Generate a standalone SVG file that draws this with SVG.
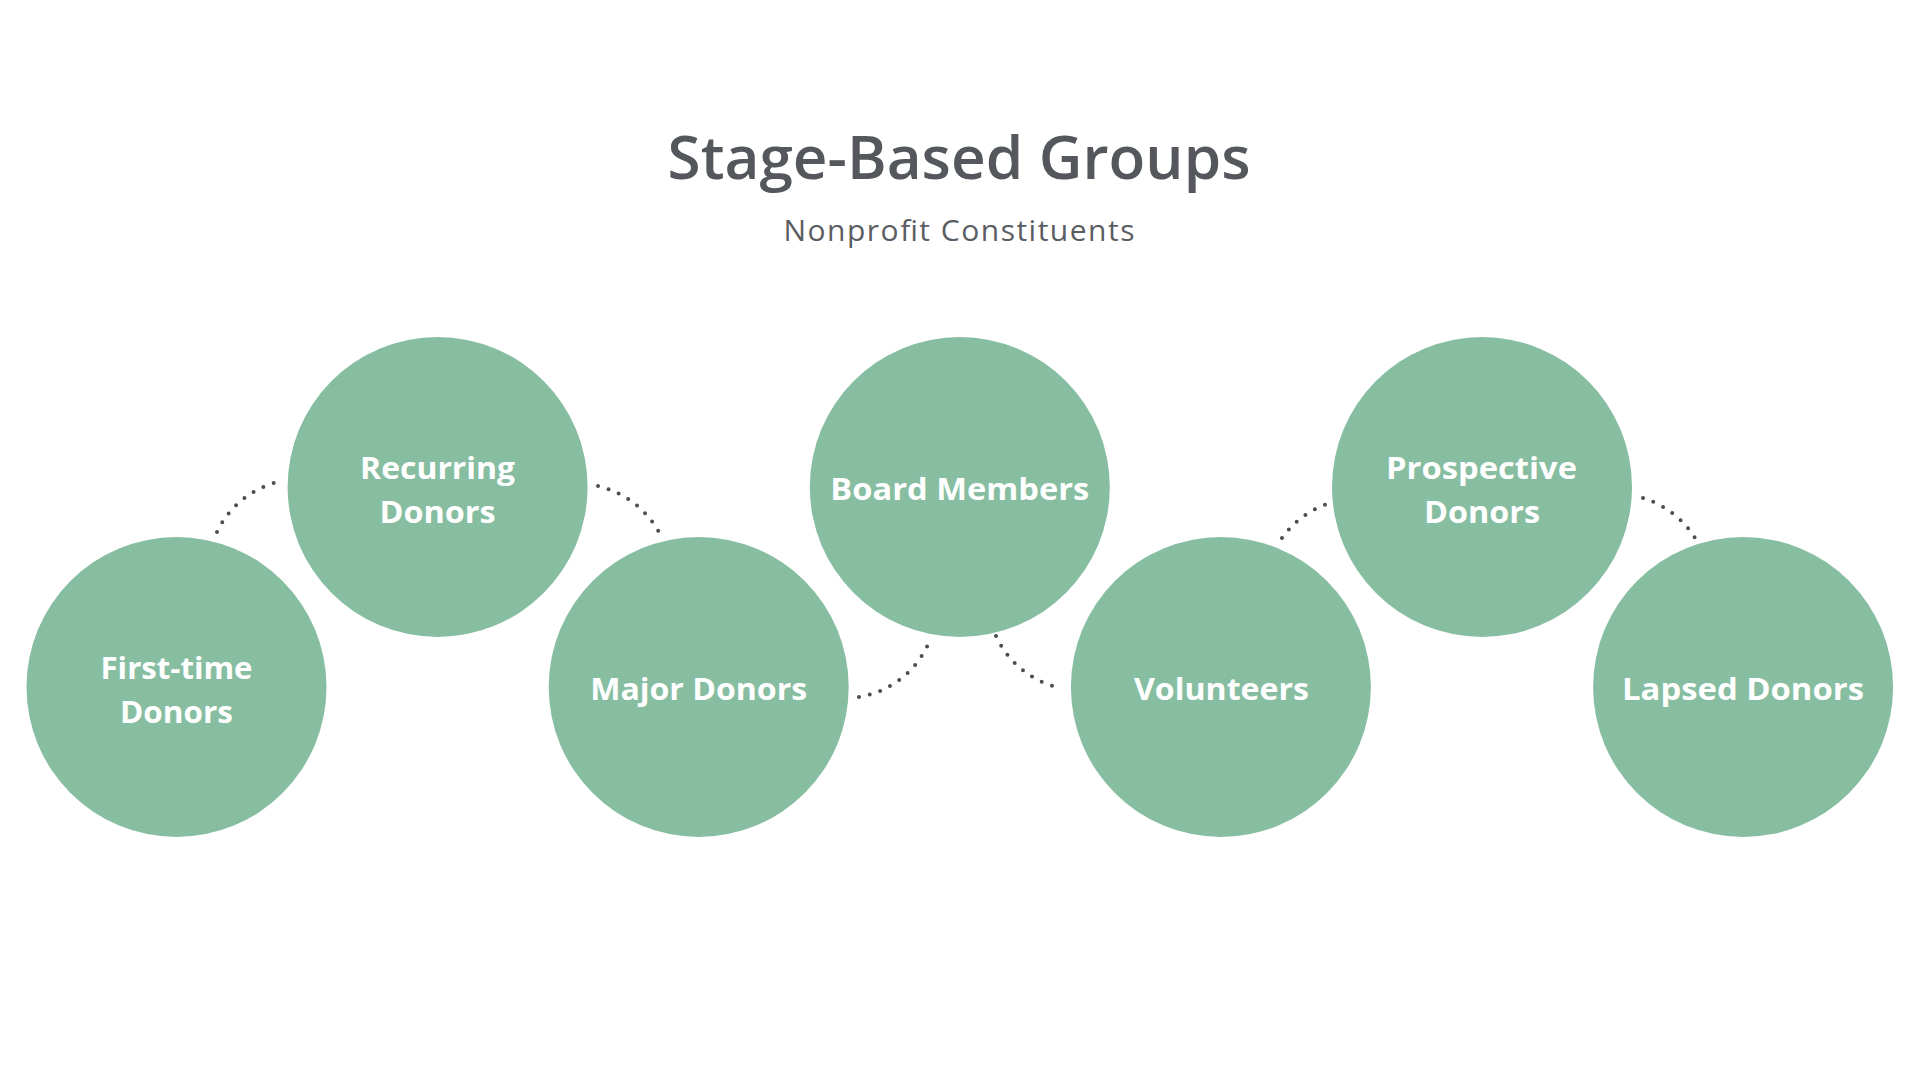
<svg xmlns="http://www.w3.org/2000/svg" width="1920" height="1080" viewBox="0 0 1920 1080">
  <style>
    .node circle { fill: #87bea1; }
    .lbl { font-family: "Open Sans", "Liberation Sans", sans-serif; font-weight: 700; font-size: 30px; fill: #ffffff; text-anchor: middle; }
    .title { font-family: "Open Sans", "Liberation Sans", sans-serif; font-weight: 600; font-size: 60px; fill: #54575c; text-anchor: middle; }
    .sub { font-family: "Open Sans", "Liberation Sans", sans-serif; font-weight: 400; font-size: 30px; fill: #5a5d62; text-anchor: middle; }
    .conn path { fill: none; stroke: #4a4d52; stroke-width: 4; stroke-linecap: round; stroke-dasharray: 0 11; }
  </style>
  <rect x="0" y="0" width="1920" height="1080" fill="#ffffff"/>

  <g id="header">
    <text class="title" x="959" y="179" textLength="583" lengthAdjust="spacingAndGlyphs">Stage-Based Groups</text>
    <text class="sub" x="959" y="241" textLength="351" lengthAdjust="spacing">Nonprofit Constituents</text>
  </g>

  <g id="connectors" class="conn">
    <path d="M 217 532 A 92 92 0 0 1 282 481"/>
    <path d="M 598 486 A 95 95 0 0 1 662 538"/>
    <path d="M 859 697 A 92 92 0 0 0 931 637"/>
    <path d="M 996 636 A 93 93 0 0 0 1060 688"/>
    <path d="M 1282 538 A 93 93 0 0 1 1330 503"/>
    <path d="M 1643 498 A 95 95 0 0 1 1698 543"/>
  </g>

  <g id="node-first-time" class="node">
    <circle cx="176.5" cy="687" r="150"/>
    <text class="lbl" x="176.5" y="679" textLength="152" lengthAdjust="spacingAndGlyphs">First-time</text>
    <text class="lbl" x="176.5" y="723" textLength="113" lengthAdjust="spacingAndGlyphs">Donors</text>
  </g>
  <g id="node-recurring" class="node">
    <circle cx="437.6" cy="487" r="150"/>
    <text class="lbl" x="437.6" y="479" textLength="155" lengthAdjust="spacingAndGlyphs">Recurring</text>
    <text class="lbl" x="437.6" y="523" textLength="116" lengthAdjust="spacingAndGlyphs">Donors</text>
  </g>
  <g id="node-major" class="node">
    <circle cx="698.7" cy="687" r="150"/>
    <text class="lbl" x="698.7" y="700" textLength="217" lengthAdjust="spacingAndGlyphs">Major Donors</text>
  </g>
  <g id="node-board" class="node">
    <circle cx="959.8" cy="487" r="150"/>
    <text class="lbl" x="959.8" y="500" textLength="259" lengthAdjust="spacingAndGlyphs">Board Members</text>
  </g>
  <g id="node-volunteers" class="node">
    <circle cx="1220.9" cy="687" r="150"/>
    <text class="lbl" x="1221.5" y="700" textLength="175" lengthAdjust="spacingAndGlyphs">Volunteers</text>
  </g>
  <g id="node-prospective" class="node">
    <circle cx="1482" cy="487" r="150"/>
    <text class="lbl" x="1481.5" y="479" textLength="191" lengthAdjust="spacingAndGlyphs">Prospective</text>
    <text class="lbl" x="1482" y="523" textLength="116" lengthAdjust="spacingAndGlyphs">Donors</text>
  </g>
  <g id="node-lapsed" class="node">
    <circle cx="1743.1" cy="687" r="150"/>
    <text class="lbl" x="1743" y="700" textLength="242" lengthAdjust="spacingAndGlyphs">Lapsed Donors</text>
  </g>
</svg>
